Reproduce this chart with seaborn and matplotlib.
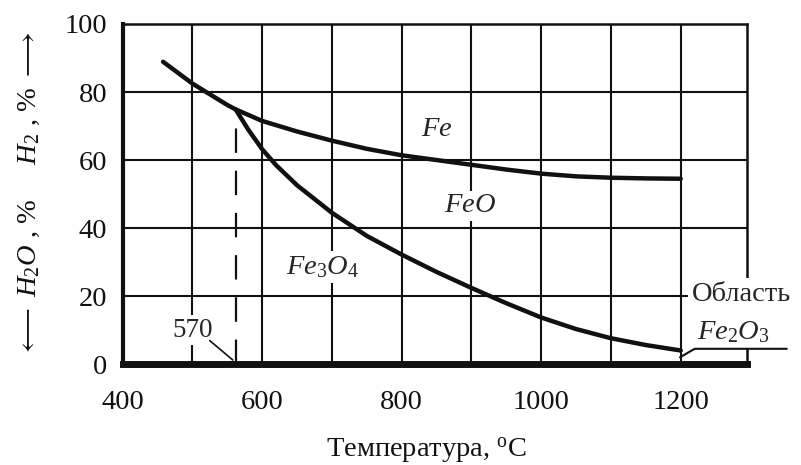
import matplotlib
matplotlib.use("Agg")
import matplotlib.pyplot as plt
import seaborn as sns
import pandas as pd

# ---- data ----
fe_feo_T = [458, 500, 550, 562, 600, 650, 700, 750, 800, 850, 900, 950, 1000, 1050, 1100, 1150, 1200]
fe_feo_H2 = [88.9, 82.5, 76.2, 74.9, 71.5, 68.4, 65.7, 63.3, 61.4, 60.0, 58.6, 57.2, 56.0, 55.2, 54.8, 54.6, 54.5]

feo_fe3o4_T = [562, 580, 600, 620, 650, 700, 750, 800, 850, 900, 950, 1000, 1050, 1100, 1150, 1200]
feo_fe3o4_H2 = [74.9, 69.0, 63.2, 58.5, 52.6, 44.5, 37.7, 32.2, 27.1, 22.4, 17.9, 13.7, 10.3, 7.6, 5.6, 4.0]

t_eutectoid_line = 562          # position of dashed line on the chart
t_eutectoid_label = "570"
fe2o3_T = [1199, 1220, 1352]
fe2o3_H2 = [2.0, 4.5, 4.5]

x_ticks = [400, 600, 800, 1000, 1200]
x_minor = [500, 700, 900, 1100]
y_ticks = [0, 20, 40, 60, 80, 100]
XMIN, XMAX = 400, 1295
YMIN, YMAX = 0, 100

df1 = pd.DataFrame({"T": fe_feo_T, "H2": fe_feo_H2})
df2 = pd.DataFrame({"T": feo_fe3o4_T, "H2": feo_fe3o4_H2})

sns.set_theme(style="white")
plt.rcParams["font.family"] = ["Liberation Serif", "DejaVu Serif"]
plt.rcParams["mathtext.fontset"] = "custom"
plt.rcParams["mathtext.rm"] = "Liberation Serif"
plt.rcParams["mathtext.it"] = "Liberation Serif:italic"
plt.rcParams["mathtext.bf"] = "Liberation Serif:bold"

fig = plt.figure(figsize=(8.01, 4.65), dpi=100)
ax = fig.add_axes([0.153, 0.217, 0.9326 - 0.153, 0.9484 - 0.217])

FS = 20.5
BK = "#111111"

sns.lineplot(data=df1, x="T", y="H2", ax=ax, color=BK, lw=3.2, sort=False,
             zorder=5)
sns.lineplot(data=df2, x="T", y="H2", ax=ax, color=BK, lw=3.2, sort=False,
             zorder=5)

# dashed 570 line
ax.plot([t_eutectoid_line, t_eutectoid_line], [YMIN, feo_fe3o4_H2[0] - 1.5],
        color=BK, lw=1.6, dashes=(11, 8), zorder=4)

# Fe2O3 region line
ax.plot(fe2o3_T, fe2o3_H2, color=BK, lw=1.5, clip_on=False, zorder=5)

ax.set_xlim(XMIN, XMAX)
ax.set_ylim(YMIN, YMAX)
ax.set_xticks(x_ticks)
ax.set_xticks(x_minor, minor=True)
ax.set_yticks(y_ticks, labels=[str(v) for v in y_ticks])
ax.grid(True, which="both", axis="x", color=BK, lw=1.5)
ax.grid(True, which="major", axis="y", color=BK, lw=1.5)
ax.set_axisbelow(True)
ax.tick_params(axis="both", which="both", length=0, labelsize=FS, colors=BK)
ax.tick_params(axis="x", pad=19)
ax.tick_params(axis="y", pad=11)

ax.spines["left"].set_linewidth(3.0)
ax.spines["left"].set_color(BK)
ax.spines["bottom"].set_linewidth(5.0)
ax.spines["bottom"].set_color(BK)
ax.spines["top"].set_linewidth(1.8)
ax.spines["top"].set_color(BK)
ax.spines["right"].set_visible(False)
# right frame, interrupted by the Fe2O3 region label
ax.plot([XMAX, XMAX], [25, YMAX], color=BK, lw=1.8, clip_on=False, zorder=3)
ax.plot([XMAX, XMAX], [YMIN, 4.5], color=BK, lw=1.8, clip_on=False, zorder=3)

wb = dict(boxstyle="square,pad=0.1", fc="white", ec="none")
ax.text(851, 69, r"$Fe$", fontsize=FS, ha="center", va="center", bbox=wb, zorder=4)
ax.text(898, 46.5, r"$FeO$", fontsize=FS, ha="center", va="center", bbox=wb, zorder=4)
ax.text(686, 28.5, r"$Fe_3O_4$", fontsize=FS, ha="center", va="center", bbox=wb, zorder=4)
ax.text(500, 10.0, t_eutectoid_label, fontsize=FS - 1, ha="center", va="center",
        bbox=wb, zorder=4)
ax.plot([525, 558], [6.9, 1.2], color=BK, lw=1.2, zorder=4)
ax.text(1216, 20.5, "Область", fontsize=FS, ha="left", va="center",
        bbox=dict(boxstyle="square,pad=0.15", fc="white", ec="none"),
        clip_on=False, zorder=6)
ax.text(1224, 9.4, r"$Fe_2O_3$", fontsize=FS, ha="left", va="center",
        clip_on=False, zorder=6)

ax.set_xlabel(r"Температура, $^{\mathrm{o}}$C", fontsize=FS, color=BK, labelpad=15)
ax.xaxis.label.set_x(0.486)
ax.set_ylabel(r"$\longleftarrow$ $H_2O$ , %     $H_2$ , % $\longrightarrow$",
              fontsize=FS, color=BK, labelpad=16)

fig.savefig("out.png", dpi=100)
